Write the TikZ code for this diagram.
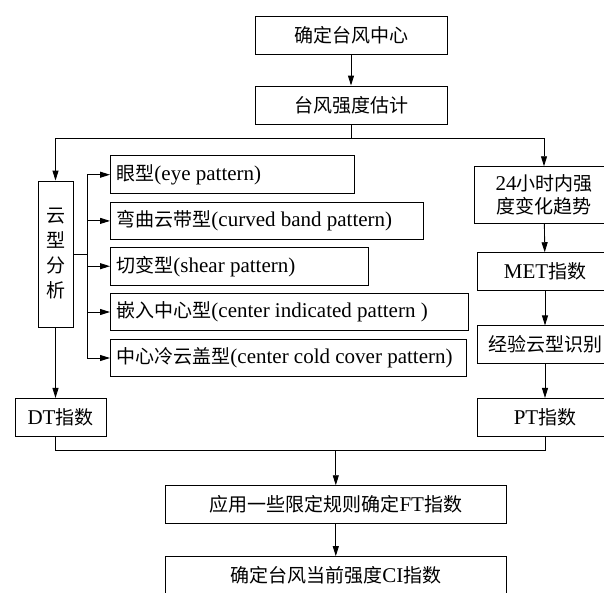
\documentclass[tikz,border=0pt]{standalone}
\usepackage{fontspec}
\setmainfont{Liberation Serif}
\newfontfamily\cjkfont{Noto Sans CJK SC}
\newcommand{\zh}[1]{{\cjkfont\fontsize{19}{22}\selectfont #1}}
\newcommand{\ltext}[2]{\makebox[#1][l]{#2}}
\usetikzlibrary{arrows.meta}
\begin{document}
\begin{tikzpicture}[x=1pt,y=-1pt,
  font=\fontsize{21}{24}\selectfont,
  line width=0.9pt,
  box/.style={draw, rectangle, inner sep=0pt, minimum height=37.6pt},
  pbox/.style={box, anchor=west, inner xsep=6pt},
  arr/.style={-{Triangle[length=10pt,width=6pt]}}]
\useasboundingbox (0,0) rectangle (604,592);
% top
\node[box, minimum width=192pt, minimum height=38pt] (b1) at (351,35) {\zh{确定台风中心}};
\node[box, minimum width=192pt, minimum height=38pt] (b2) at (351,105) {\zh{台风强度估计}};
% cloud pattern column
\node[box, minimum width=35pt, minimum height=146pt, font=\cjkfont\fontsize{19}{25}\selectfont, align=center] (yun) at (55.5,254) {云\\型\\分\\析};
\node[pbox] (p1) at (110,174.7) {\ltext{232pt}{\zh{眼型}(eye pattern)}};
\node[pbox] (p2) at (110,220.9) {\ltext{300.7pt}{\zh{弯曲云带型}(curved band pattern)}};
\node[pbox] (p3) at (110,266.2) {\ltext{246.3pt}{\zh{切变型}(shear pattern)}};
\node[pbox] (p4) at (110,312) {\ltext{346.3pt}{\zh{嵌入中心型}(center indicated pattern )}};
\node[pbox] (p5) at (110,358) {\ltext{344pt}{\zh{中心冷云盖型}(center cold cover pattern)}};
\node[box, minimum width=91pt] (dt) at (60.5,417.2) {DT\zh{指数}};
% right column
\node[box, minimum width=140pt, minimum height=56.6pt, align=center, font=\fontsize{21}{23}\selectfont] (r1) at (544,195) {24\zh{小时内强}\\\zh{度变化趋势}};
\node[box, minimum width=136pt, minimum height=38pt] (r2) at (545,271.7) {MET\zh{指数}};
\node[box, minimum width=136pt] (r3) at (545,344.7) {\zh{经验云型识别}};
\node[box, minimum width=136pt] (r4) at (545,417.2) {PT\zh{指数}};
% bottom
\node[box, minimum width=340.4pt] (ft) at (335.8,504.5) {\zh{应用一些限定规则确定}FT\zh{指数}};
\node[box, minimum width=340.4pt] (ci) at (335.8,575.4) {\zh{确定台风当前强度}CI\zh{指数}};
% connectors
\coordinate (split) at (351,138);
\coordinate (br) at (87,254);
\coordinate (join) at (335.8,450);
\draw[arr] (b1) -- (b2);
\draw (b2.south) -- (split);
\draw[arr] (split) -| (yun.north);
\draw[arr] (split) -| (r1.north);
\draw (yun.east) -- (br);
\foreach \p in {p1,p2,p3,p4,p5} \draw[arr] (br) |- (\p.west);
\draw[arr] (yun.south) -- (yun.south |- dt.north);
\draw[arr] (r1) -- (r2);
\draw[arr] (r2) -- (r3);
\draw[arr] (r3) -- (r4);
\draw (yun.south |- dt.south) -- (yun.south |- join) -- (join) -| (r4.south);
\draw[arr] (join) -- (ft.north);
\draw[arr] (ft) -- (ci);
\end{tikzpicture}
\end{document}
